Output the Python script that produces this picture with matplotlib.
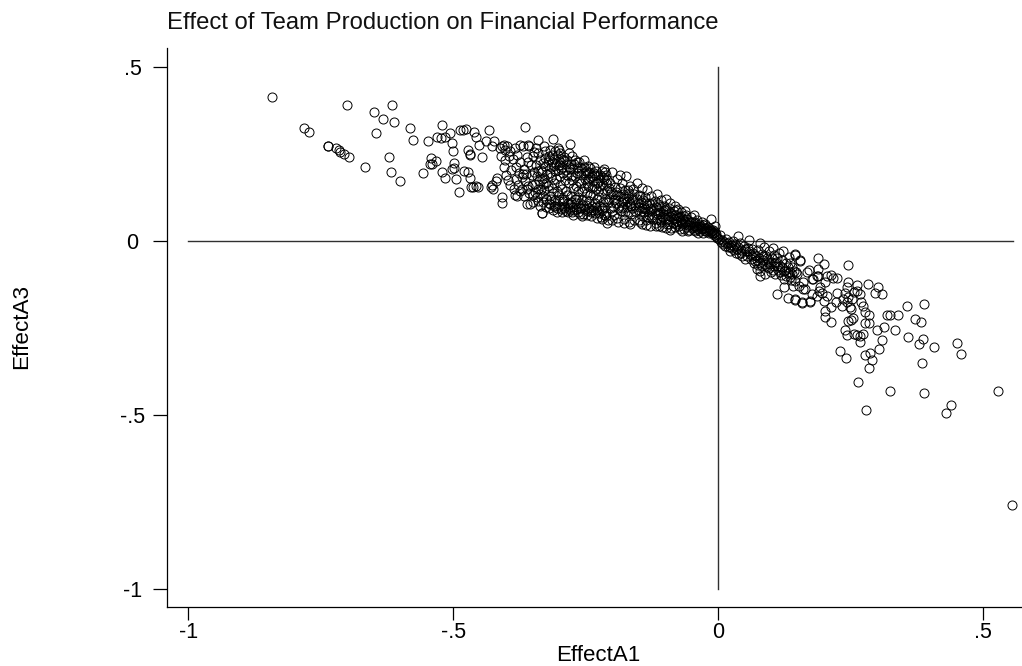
import matplotlib
matplotlib.use("Agg")
import matplotlib.pyplot as plt

TITLE = "Effect of Team Production on Financial Performance"
X_LABEL = "EffectA1"
Y_LABEL = "EffectA3"
X_TICKS = [-1, -0.5, 0, 0.5]
X_TICK_LABELS = ["-1", "-.5", "0", ".5"]
Y_TICKS = [-1, -0.5, 0, 0.5]
Y_TICK_LABELS = ["-1", "-.5", "0", ".5"]

far_left = [(-.842,.415),(-.701,.392),(-.781,.325),(-.772,.312),(-.737,.274),(-.736,.272),(-.721,.267),(-.716,.262),
(-.713,.255),(-.707,.251),(-.696,.241),(-.667,.213),(-.649,.370),(-.633,.350),(-.611,.342),(-.615,.391),(-.646,.311),
(-.622,.241),(-.618,.197),(-.601,.172),(-.581,.326),(-.576,.291),(-.548,.286),(-.557,.195),(-.542,.238),(-.532,.231),
(-.543,.221),(-.540,.222),(-.522,.199),(-.515,.182),(-.494,.179),(-.489,.142),(-.521,.334),(-.531,.300),(-.523,.295),
(-.516,.300),(-.506,.309),(-.503,.282),(-.501,.258),(-.498,.223),(-.503,.207),(-.499,.211),(-.479,.200),(-.473,.199),
(-.487,.320),(-.481,.318),(-.475,.323),(-.473,.262),(-.469,.248),(-.468,.181),(-.467,.156),(-.461,.312),(-.457,.299),
(-.468,.249),(-.451,.275),(-.445,.242),(-.432,.319),(-.438,.288),(-.423,.286),(-.427,.274),(-.462,.156),(-.457,.159),
(-.453,.155),(-.418,.182),(-.419,.172),(-.427,.162),(-.429,.156),(-.425,.150),(-.408,.127),(-.408,.110),(-.365,.327),
(-.339,.290),(-.311,.293),(-.280,.278),(-.301,.262)]

upper_band = [(-.412,.268),(-.405,.276),(-.402,.262),(-.398,.272),(-.395,.243),(-.392,.258),(-.388,.235),(-.384,.268),
(-.381,.214),(-.379,.248),(-.376,.196),(-.373,.228),(-.371,.185),(-.369,.272),(-.366,.206),(-.364,.172),(-.361,.241),
(-.358,.158),(-.356,.272),(-.354,.219),(-.352,.189),(-.349,.132),(-.347,.255),(-.345,.165),(-.343,.267),(-.341,.126),
(-.339,.201),(-.337,.232),(-.335,.148),(-.333,.178),(-.331,.112),(-.329,.272),(-.327,.216),(-.325,.121),(-.323,.192),
(-.321,.157),(-.319,.245),(-.317,.105),(-.315,.183),(-.313,.226),(-.311,.138),(-.309,.168),(-.307,.259),(-.305,.095),
(-.303,.204),(-.301,.116),(-.299,.186),(-.297,.236),(-.295,.148),(-.293,.196),(-.291,.101),(-.289,.176),(-.287,.221),
(-.285,.131),(-.283,.082),(-.281,.166),(-.279,.208),(-.277,.112),(-.275,.243),(-.273,.151),(-.271,.188),(-.269,.093),
(-.267,.226),(-.265,.126),(-.263,.172),(-.261,.078),(-.259,.209),(-.257,.145),(-.255,.103),(-.253,.232),(-.251,.179),
(-.249,.118),(-.247,.086),(-.245,.158),(-.243,.198),(-.241,.131),(-.239,.072),(-.237,.172),(-.235,.213),(-.233,.109),
(-.231,.148),(-.229,.089),(-.227,.186),(-.225,.126),(-.223,.159),(-.221,.068),(-.219,.201),(-.217,.139),(-.215,.098),
(-.328,.182),(-.318,.196),(-.308,.202),(-.298,.161),(-.288,.143),(-.278,.128),(-.268,.158),(-.258,.168),(-.248,.139),
(-.238,.152),(-.228,.168),(-.218,.162),(-.326,.238),(-.316,.214),(-.306,.178),(-.296,.208),(-.286,.191),(-.276,.176),
(-.266,.194),(-.256,.119),(-.246,.178),(-.236,.131),(-.226,.143),(-.216,.178),(-.344,.218),(-.334,.204),(-.324,.166),
(-.314,.152),(-.304,.143),(-.294,.122),(-.284,.109),(-.274,.098),(-.264,.143),(-.254,.152),(-.244,.114),(-.234,.158),
(-.224,.102),(-.214,.121),(-.368,.192),(-.358,.228),(-.348,.198),(-.338,.172),(-.328,.146),(-.318,.128),(-.308,.119),
(-.298,.226),(-.288,.203),(-.278,.186),(-.268,.108),(-.258,.096),(-.248,.166),(-.238,.102),(-.228,.121),(-.218,.113)]

upper_extra = [(-.408,.272),(-.402,.234),(-.392,.162),(-.383,.131),(-.379,.128),(-.361,.105),(-.355,.105),(-.336,.100),
(-.333,.081),(-.295,.083),(-.273,.075),(-.255,.077),(-.373,.277),(-.358,.277),(-.333,.080),(-.219,.062),(-.210,.052),
(-.245,.216),(-.216,.206),(-.185,.190),(-.410,.244),(-.404,.212),(-.400,.190),(-.396,.176),(-.390,.204),(-.386,.150),
(-.382,.178),(-.378,.160),(-.374,.145),(-.370,.150),(-.366,.130),(-.362,.192),(-.360,.148),(-.356,.138),(-.352,.160),
(-.350,.112),(-.346,.142),(-.342,.188),(-.340,.150),(-.336,.134),(-.332,.198),(-.330,.165),(-.326,.258),(-.324,.098),
(-.322,.228),(-.320,.110),(-.318,.262),(-.316,.122),(-.314,.246),(-.312,.088),(-.310,.236),(-.308,.102),(-.306,.222),
(-.304,.084),(-.302,.268),(-.300,.100),(-.298,.252),(-.296,.092),(-.294,.214),(-.292,.114),(-.290,.242),(-.288,.086),
(-.286,.232),(-.284,.094),(-.282,.252),(-.280,.106),(-.278,.222),(-.276,.082),(-.274,.206),(-.272,.090),(-.270,.234),
(-.268,.122),(-.266,.212),(-.264,.082),(-.262,.226),(-.260,.094),(-.258,.190),(-.256,.072),(-.254,.214),(-.252,.092),
(-.250,.202),(-.248,.076),(-.246,.196),(-.244,.096),(-.242,.210),(-.240,.084),(-.238,.188),(-.236,.090),(-.234,.196),
(-.232,.080),(-.230,.200),(-.228,.066),(-.226,.170),(-.224,.080),(-.222,.190),(-.220,.096),(-.218,.184),(-.216,.076),
(-.214,.198),(-.212,.072),(-.210,.176),(-.302,.248),(-.292,.232),(-.282,.214),(-.272,.222),(-.262,.202),(-.252,.196),
(-.242,.184),(-.232,.190),(-.222,.176),(-.212,.168),(-.350,.244),(-.340,.252),(-.330,.224),(-.320,.232),(-.310,.216),
(-.300,.218),(-.290,.094),(-.280,.098),(-.270,.120),(-.260,.110),(-.250,.104),(-.240,.090),(-.230,.098),(-.220,.088),
(-.212,.080),(-.310,.100),(-.320,.094),(-.330,.130),(-.340,.116),(-.300,.132),(-.290,.120),(-.280,.088)]

middle_band = [(-.212,.190),(-.210,.146),(-.208,.059),(-.206,.120),(-.204,.168),(-.202,.095),(-.200,.198),(-.198,.134),
(-.196,.074),(-.194,.156),(-.192,.108),(-.190,.178),(-.188,.054),(-.186,.128),(-.184,.086),(-.182,.166),(-.180,.114),
(-.178,.064),(-.176,.146),(-.174,.186),(-.172,.098),(-.170,.128),(-.168,.056),(-.166,.158),(-.164,.079),(-.162,.118),
(-.160,.148),(-.158,.061),(-.156,.104),(-.154,.168),(-.152,.088),(-.150,.132),(-.148,.054),(-.146,.112),(-.144,.151),
(-.142,.072),(-.140,.098),(-.138,.126),(-.136,.060),(-.134,.146),(-.132,.086),(-.130,.110),(-.128,.044),(-.126,.128),
(-.124,.070),(-.122,.094),(-.120,.116),(-.118,.052),(-.116,.136),(-.114,.078),(-.112,.100),(-.110,.060),(-.108,.118),
(-.106,.040),(-.104,.086),(-.102,.102),(-.100,.066),(-.098,.122),(-.096,.050),(-.094,.078),(-.092,.096),(-.090,.110),
(-.088,.036),(-.086,.066),(-.084,.086),(-.082,.102),(-.080,.050),(-.078,.072),(-.076,.092),(-.074,.042),(-.072,.060),
(-.070,.082),(-.068,.030),(-.066,.052),(-.064,.072),(-.062,.086),(-.060,.040),(-.058,.062),(-.056,.030),(-.054,.048),
(-.052,.070),(-.050,.036),(-.048,.054),(-.046,.074),(-.044,.028),(-.042,.044),(-.040,.060),(-.038,.034),(-.036,.050),
(-.034,.030),(-.032,.042),(-.030,.056),(-.028,.024),(-.026,.036),(-.024,.048),(-.022,.028),(-.020,.040),(-.018,.024),
(-.016,.034),(-.014,.064),(-.012,.022),(-.010,.032),(-.008,.016),(-.006,.044),(-.004,.020),(-.002,.010),
(-.206,.152),(-.198,.102),(-.190,.131),(-.182,.094),(-.174,.123),(-.166,.109),(-.158,.134),(-.150,.098),(-.142,.118),
(-.134,.104),(-.126,.088),(-.118,.098),(-.110,.084),(-.102,.078),(-.094,.062),(-.086,.052),(-.078,.058),(-.070,.056),
(-.062,.056),(-.054,.058),(-.046,.044),(-.038,.044),(-.030,.038),(-.022,.036),(-.014,.028),(-.006,.026),
(-.202,.142),(-.194,.122),(-.186,.152),(-.178,.124),(-.170,.082),(-.162,.096),(-.154,.122),(-.146,.086),(-.138,.092),
(-.130,.076),(-.122,.064),(-.114,.106),(-.106,.072),(-.098,.092),(-.090,.072),(-.082,.074),(-.074,.068),(-.066,.064)]

middle_extra = [(-.208,.112),(-.204,.134),(-.200,.086),(-.196,.118),(-.192,.140),(-.188,.096),(-.184,.112),(-.180,.136),
(-.176,.084),(-.172,.112),(-.168,.138),(-.164,.100),(-.160,.120),(-.156,.086),(-.152,.110),(-.148,.128),(-.144,.096),
(-.140,.082),(-.136,.110),(-.132,.068),(-.128,.094),(-.124,.110),(-.120,.080),(-.116,.064),(-.112,.088),(-.108,.056),
(-.104,.070),(-.100,.090),(-.096,.062),(-.092,.050),(-.088,.080),(-.084,.062),(-.080,.088),(-.076,.054),(-.072,.072),
(-.068,.048),(-.064,.058),(-.060,.074),(-.056,.046),(-.052,.056),(-.048,.040),(-.044,.056),(-.040,.036),(-.036,.042),
(-.032,.034),(-.028,.046),(-.024,.030),(-.020,.032),(-.016,.026),(-.012,.030),(-.008,.024),(-.004,.014),(-.118,.042),
(-.112,.044),(-.098,.036),(-.090,.032),(-.082,.040),(-.072,.034),(-.064,.034),(-.054,.032),(-.046,.032),(-.038,.024),
(-.150,.060),(-.144,.050),(-.136,.046),(-.166,.050),(-.178,.052),(-.190,.066),(-.200,.060),(-.180,.098),(-.170,.146)]

core_right = [(.002,.006),(.004,.016),(.006,-.004),(.008,.004),(.010,-.010),(.013,-.014),(.014,.006),(.016,-.006),
(.018,-.018),(.020,-.002),(.023,-.029),(.024,-.012),(.026,-.020),(.028,.000),(.030,-.026),(.032,-.010),(.034,-.034),
(.037,.014),(.038,-.018),(.040,-.036),(.042,-.006),(.044,-.026),(.046,-.042),(.048,-.014),(.051,-.052),(.052,-.030),
(.054,-.043),(.056,-.020),(.059,.003),(.060,-.038),(.062,-.052),(.064,-.024),(.066,-.034),(.068,-.062),(.070,-.057),
(.072,-.042),(.073,-.081),(.075,-.026),(.076,-.068),(.078,-.050),(.079,-.100),(.079,-.086),(.079,-.005),(.082,-.036),
(.083,-.072),(.085,-.056),(.087,-.018),(.089,-.095),(.090,-.044),(.092,-.076),(.094,-.060),(.096,-.028),(.098,-.067),
(.100,-.088),(.101,-.050),(.103,-.019),(.105,-.072),(.106,-.040),(.108,-.095),(.110,-.060),(.111,-.153),(.111,-.048),
(.113,-.082),(.115,-.034),(.117,-.071),(.119,-.098),(.121,-.056),(.123,-.029),(.125,-.132),(.125,-.108),(.127,-.082),
(.129,-.064),(.131,-.164),(.132,-.092),(.134,-.046),(.136,-.062),(.136,-.090),(.138,-.112),(.140,-.076),(.142,-.129),
(.145,-.167),(.145,-.114),(.145,-.038),(.147,-.088),(.149,-.095),(.152,-.129),(.155,-.057),(.158,-.176),(.161,-.119),
(.164,-.138),(.167,-.090),(.174,-.172),(.177,-.110),(.188,-.100),(.189,-.081),(.012,-.002),(.022,-.016),(.030,-.014),
(.036,-.024),(.044,-.034),(.050,-.024),(.058,-.030),(.064,-.044),(.070,-.040),(.074,-.054),(.080,-.062),(.084,-.044),
(.088,-.066),(.092,-.050),(.096,-.078),(.100,-.060),(.104,-.082),(.108,-.064),(.112,-.072),(.116,-.090),(.120,-.076),
(.124,-.086),(.128,-.100),(.132,-.076),(.136,-.104),(.140,-.096),(.144,-.086)]

right_tail = [(.145,-.039),(.155,-.056),(.189,-.049),(.199,-.067),(.245,-.068),(.172,-.083),(.205,-.102),(.214,-.098),
(.216,-.105),(.224,-.105),(.179,-.108),(.187,-.100),(.202,-.119),(.245,-.117),(.262,-.125),(.282,-.124),(.301,-.132),
(.296,-.150),(.309,-.151),(.244,-.133),(.192,-.133),(.191,-.143),(.196,-.148),(.177,-.152),(.186,-.159),(.206,-.159),
(.224,-.150),(.222,-.174),(.199,-.172),(.174,-.174),(.159,-.178),(.145,-.170),(.161,-.138),(.240,-.148),(.257,-.146),
(.262,-.143),(.267,-.152),(.236,-.167),(.246,-.162),(.252,-.167),(.243,-.174),(.233,-.186),(.249,-.191),(.251,-.195),
(.213,-.191),(.202,-.200),(.202,-.219),(.214,-.232),(.270,-.174),(.273,-.188),(.277,-.205),(.284,-.212),(.246,-.229),
(.250,-.226),(.254,-.222),(.278,-.235),(.284,-.235),(.318,-.212),(.325,-.214),(.340,-.214),(.356,-.188),(.389,-.181),
(.372,-.225),(.383,-.233),(.314,-.246),(.300,-.257),(.334,-.257),(.240,-.257),(.244,-.270),(.257,-.268),(.262,-.270),
(.267,-.274),(.274,-.266),(.267,-.290),(.310,-.284),(.358,-.275),(.387,-.282),(.379,-.296),(.407,-.304),(.450,-.293),
(.459,-.325),(.303,-.311),(.287,-.323),(.278,-.328),(.291,-.342),(.284,-.366),(.231,-.317),(.242,-.335),(.384,-.350),
(.265,-.406),(.324,-.432),(.388,-.436),(.529,-.432),(.440,-.471),(.430,-.495),(.279,-.487),(.554,-.759)]

plt.rcParams["font.family"] = ["Liberation Sans", "DejaVu Sans"]
W, H = 1022, 666
fig = plt.figure(figsize=(W / 100, H / 100), dpi=100, facecolor="white")
L, R, T, B = 167.3, 1022, 48, 607.3
ax = fig.add_axes([L / W, 1 - B / H, (R - L) / W, (B - T) / H])
ax.set_xlim((L - 718.1) / 529.8, (R - 718.1) / 529.8)
ax.set_ylim((241 - B) / 348, (241 - T) / 348)

ax.plot([-1, 0.557], [0, 0], color="#303030", lw=1, zorder=1)
ax.plot([0, 0], [-1, 0.5], color="#303030", lw=1, zorder=1)

points = far_left + upper_band + upper_extra + middle_band + middle_extra + core_right + right_tail
ax.plot([p[0] for p in points], [p[1] for p in points], ls="none", marker="o", ms=6.5,
        mfc="none", mec="black", mew=0.7, clip_on=False, zorder=2)

for s in ("top", "right"):
    ax.spines[s].set_visible(False)
for s in ("left", "bottom"):
    ax.spines[s].set_linewidth(0.9)
ax.set_xticks(X_TICKS, X_TICK_LABELS)
ax.set_yticks(Y_TICKS, Y_TICK_LABELS)
ax.tick_params(axis="x", length=9.4, width=0.9, labelsize=15.5, pad=1.5)
ax.tick_params(axis="y", length=10, width=0.9, labelsize=15.5, pad=15)
for lab in ax.get_yticklabels():
    lab.set_ha("center")
fig.text(166.5 / W, 1 - 29.3 / H, TITLE, fontsize=17.2, ha="left", va="baseline", color="#111111")
fig.text(598 / W, 1 - 661 / H, X_LABEL, fontsize=16, ha="center", va="baseline")
fig.text(22 / W, 1 - 326 / H, Y_LABEL, fontsize=16.2, ha="center", va="center", rotation=90)
fig.savefig("out.png", dpi=100)
